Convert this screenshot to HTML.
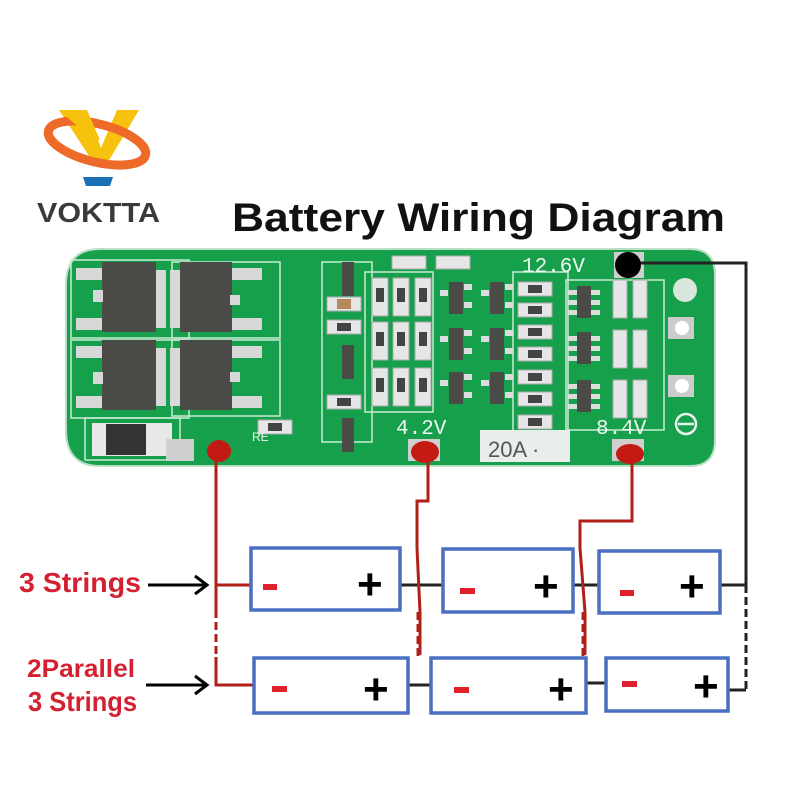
<!DOCTYPE html>
<html><head><meta charset="utf-8"><style>
html,body{margin:0;padding:0;background:#fff;width:800px;height:800px;overflow:hidden}
svg{display:block}
</style></head><body>
<svg width="800" height="800" viewBox="0 0 800 800" xmlns="http://www.w3.org/2000/svg" font-family="Liberation Sans, sans-serif">
<rect width="800" height="800" fill="#fff"/>
<!-- logo -->
<polygon points="59,110 87,110 101,148 117,110 139,110 108,162 93,162" fill="#f7c20e"/>
<ellipse cx="97" cy="143" rx="50" ry="19" fill="none" stroke="#ee6a28" stroke-width="9" transform="rotate(14 97 143)"/>
<polygon points="59,110 87,110 100,140 93,140" fill="#f7c20e"/>
<polygon points="83,177 113,177 110,186 86,186" fill="#1a6fb5"/>
<text x="37" y="222" font-size="28" font-weight="bold" fill="#3a3a3a" textLength="123" lengthAdjust="spacingAndGlyphs">VOKTTA</text>
<!-- title -->
<text x="232" y="231" font-size="40" font-weight="bold" fill="#111" textLength="493" lengthAdjust="spacingAndGlyphs">Battery Wiring Diagram</text>

<!-- PCB -->
<path d="M100,249 L690,249 Q715,249 715,275 L715,440 Q715,466 690,466 L100,466 Q66,466 66,430 L66,285 Q66,249 100,249 Z" fill="#16a04c" stroke="#b9e0c4" stroke-width="2"/>
<g fill="none" stroke="#c8ead3" stroke-width="1.5">
<rect x="71" y="260" width="118" height="78"/><rect x="71" y="340" width="118" height="78"/>
<rect x="172" y="262" width="108" height="76"/><rect x="172" y="340" width="108" height="76"/>
<rect x="85" y="418" width="95" height="42"/>
<rect x="322" y="262" width="50" height="180"/>
<rect x="365" y="272" width="68" height="140"/>
<rect x="513" y="272" width="55" height="160"/>
<rect x="566" y="280" width="98" height="150"/>
</g>
<g fill="#4a4a46">
<rect x="102" y="262" width="54" height="70"/><rect x="180" y="262" width="52" height="70"/>
<rect x="102" y="340" width="54" height="70"/><rect x="180" y="340" width="52" height="70"/>
</g>
<g fill="#d8d8d8">
<rect x="76" y="268" width="26" height="12"/><rect x="76" y="318" width="26" height="12"/><rect x="93" y="290" width="10" height="12"/>
<rect x="76" y="346" width="26" height="12"/><rect x="76" y="396" width="26" height="12"/><rect x="93" y="372" width="10" height="12"/>
<rect x="156" y="270" width="10" height="58"/><rect x="156" y="348" width="10" height="58"/>
<rect x="232" y="268" width="30" height="12"/><rect x="232" y="318" width="30" height="12"/><rect x="230" y="295" width="10" height="10"/>
<rect x="232" y="346" width="30" height="12"/><rect x="232" y="396" width="30" height="12"/><rect x="230" y="372" width="10" height="10"/>
<rect x="170" y="270" width="10" height="58"/><rect x="170" y="348" width="10" height="58"/>
</g>
<rect x="92" y="423" width="80" height="33" fill="#e8e8e8"/><rect x="106" y="424" width="40" height="31" fill="#333"/>
<g fill="#e6e6e6" stroke="#aaa" stroke-width="1">
<rect x="392" y="256" width="34" height="13"/><rect x="436" y="256" width="34" height="13"/>
<rect x="372" y="278" width="16" height="38"/><rect x="393" y="278" width="16" height="38"/><rect x="415" y="278" width="16" height="38"/>
<rect x="372" y="322" width="16" height="38"/><rect x="393" y="322" width="16" height="38"/><rect x="415" y="322" width="16" height="38"/>
<rect x="372" y="368" width="16" height="38"/><rect x="393" y="368" width="16" height="38"/><rect x="415" y="368" width="16" height="38"/>
<rect x="518" y="282" width="34" height="14"/><rect x="518" y="303" width="34" height="14"/><rect x="518" y="325" width="34" height="14"/>
<rect x="518" y="347" width="34" height="14"/><rect x="518" y="370" width="34" height="14"/><rect x="518" y="392" width="34" height="14"/><rect x="518" y="415" width="34" height="14"/>
<rect x="327" y="297" width="34" height="14"/><rect x="327" y="320" width="34" height="14"/><rect x="327" y="395" width="34" height="14"/>
<rect x="613" y="280" width="14" height="38"/><rect x="633" y="280" width="14" height="38"/>
<rect x="613" y="330" width="14" height="38"/><rect x="633" y="330" width="14" height="38"/>
<rect x="613" y="380" width="14" height="38"/><rect x="633" y="380" width="14" height="38"/>
<rect x="258" y="420" width="34" height="14"/>
</g>
<g fill="#444">
<rect x="376" y="288" width="8" height="14"/><rect x="397" y="288" width="8" height="14"/><rect x="419" y="288" width="8" height="14"/>
<rect x="376" y="332" width="8" height="14"/><rect x="397" y="332" width="8" height="14"/><rect x="419" y="332" width="8" height="14"/>
<rect x="376" y="378" width="8" height="14"/><rect x="397" y="378" width="8" height="14"/><rect x="419" y="378" width="8" height="14"/>
<rect x="528" y="285" width="14" height="8"/><rect x="528" y="306" width="14" height="8"/><rect x="528" y="328" width="14" height="8"/>
<rect x="528" y="350" width="14" height="8"/><rect x="528" y="373" width="14" height="8"/><rect x="528" y="395" width="14" height="8"/><rect x="528" y="418" width="14" height="8"/>
<rect x="337" y="323" width="14" height="8"/><rect x="337" y="398" width="14" height="8"/><rect x="268" y="423" width="14" height="8"/>
</g>
<rect x="337" y="299" width="14" height="10" fill="#b58a5e"/>
<g fill="#4a4a46">
<rect x="342" y="262" width="12" height="34"/><rect x="342" y="345" width="12" height="34"/><rect x="342" y="418" width="12" height="34"/>
<rect x="449" y="282" width="14" height="32"/><rect x="449" y="328" width="14" height="32"/><rect x="449" y="372" width="14" height="32"/>
<rect x="490" y="282" width="14" height="32"/><rect x="490" y="328" width="14" height="32"/><rect x="490" y="372" width="14" height="32"/>
<rect x="577" y="286" width="14" height="32"/><rect x="577" y="332" width="14" height="32"/><rect x="577" y="380" width="14" height="32"/>
</g>
<g fill="#ddd">
<rect x="440" y="290" width="8" height="6"/><rect x="464" y="284" width="8" height="6"/><rect x="464" y="302" width="8" height="6"/>
<rect x="440" y="336" width="8" height="6"/><rect x="464" y="330" width="8" height="6"/><rect x="464" y="348" width="8" height="6"/>
<rect x="440" y="380" width="8" height="6"/><rect x="464" y="374" width="8" height="6"/><rect x="464" y="392" width="8" height="6"/>
<rect x="481" y="290" width="8" height="6"/><rect x="505" y="284" width="8" height="6"/><rect x="505" y="302" width="8" height="6"/>
<rect x="481" y="336" width="8" height="6"/><rect x="505" y="330" width="8" height="6"/><rect x="505" y="348" width="8" height="6"/>
<rect x="481" y="380" width="8" height="6"/><rect x="505" y="374" width="8" height="6"/><rect x="505" y="392" width="8" height="6"/>
<rect x="568" y="290" width="9" height="5"/><rect x="568" y="300" width="9" height="5"/><rect x="568" y="310" width="9" height="5"/>
<rect x="591" y="290" width="9" height="5"/><rect x="591" y="300" width="9" height="5"/><rect x="591" y="310" width="9" height="5"/>
<rect x="568" y="336" width="9" height="5"/><rect x="568" y="346" width="9" height="5"/><rect x="568" y="356" width="9" height="5"/>
<rect x="591" y="336" width="9" height="5"/><rect x="591" y="346" width="9" height="5"/><rect x="591" y="356" width="9" height="5"/>
<rect x="568" y="384" width="9" height="5"/><rect x="568" y="394" width="9" height="5"/><rect x="568" y="404" width="9" height="5"/>
<rect x="591" y="384" width="9" height="5"/><rect x="591" y="394" width="9" height="5"/><rect x="591" y="404" width="9" height="5"/>
</g>
<circle cx="685" cy="290" r="12" fill="#d9e6dc"/>
<rect x="668" y="317" width="26" height="22" fill="#ccc"/><circle cx="682" cy="328" r="7" fill="#fff"/>
<rect x="668" y="375" width="26" height="22" fill="#ccc"/><circle cx="682" cy="386" r="7" fill="#fff"/>
<circle cx="686" cy="424" r="10" fill="none" stroke="#e8f4ec" stroke-width="2.5"/><line x1="678" y1="424" x2="694" y2="424" stroke="#e8f4ec" stroke-width="2.5"/>
<rect x="480" y="430" width="90" height="32" fill="#e8eee9"/>
<text x="488" y="457" font-size="22" fill="#555">20A ·</text>
<g fill="#f0f8f2" font-family="Liberation Mono, monospace" font-size="21">
<text x="522" y="272">12.6V</text><text x="396" y="434">4.2V</text><text x="596" y="434">8.4V</text>
</g>
<text x="252" y="441" font-size="12" fill="#f0f8f2">RE</text>
<g fill="#cfcfcf"><rect x="166" y="439" width="28" height="22"/><rect x="408" y="439" width="32" height="22"/><rect x="612" y="439" width="32" height="22"/><rect x="614" y="252" width="30" height="26"/></g>
<!-- wires -->
<g fill="none" stroke="#b0201a" stroke-width="3">
<path d="M216,452 V610 M216,657 V685 H253 M216,585 H250"/>
<path d="M428,452 V501 H417 V548 M420,612 V655"/>
<path d="M632,452 V521 H580 V548 M585,612 V655"/>
</g>
<g fill="none" stroke="#b0201a" stroke-width="3" stroke-dasharray="8,4">
<path d="M216,610 V657"/><path d="M418,612 V660"/><path d="M583,612 V660"/>
</g>
<g fill="none" stroke="#222" stroke-width="3">
<path d="M640,263 H746 V585 H720"/>
<path d="M400,585 H442 M573,585 H598"/>
<path d="M407,685 H430 M585,683 H606 M728,690 H746"/>
</g>
<path d="M746,585 V690" stroke="#222" stroke-width="3" stroke-dasharray="8,4" fill="none"/>
<line x1="417" y1="548" x2="420" y2="612" stroke="#b0201a" stroke-width="3"/>
<line x1="580" y1="548" x2="585" y2="612" stroke="#b0201a" stroke-width="3"/>
<ellipse cx="219" cy="451" rx="12" ry="11" fill="#c41a14"/>
<ellipse cx="425" cy="452" rx="14" ry="11" fill="#c41a14"/>
<ellipse cx="630" cy="454" rx="14" ry="10" fill="#c41a14"/>
<circle cx="628" cy="265" r="13" fill="#000"/>
<!-- batteries -->
<g fill="#fff" stroke="#4a6fc0" stroke-width="3.5">
<rect x="251" y="548" width="149" height="62"/><rect x="443" y="549" width="130" height="63"/><rect x="599" y="551" width="121" height="62"/>
<rect x="254" y="658" width="154" height="55"/><rect x="431" y="658" width="155" height="55"/><rect x="606" y="658" width="122" height="53"/>
</g>
<g fill="#e0202a">
<rect x="263" y="584" width="14" height="6"/><rect x="460" y="588" width="15" height="6"/><rect x="620" y="590" width="14" height="6"/>
<rect x="272" y="686" width="15" height="6"/><rect x="454" y="687" width="15" height="6"/><rect x="622" y="681" width="15" height="6"/>
</g>
<g fill="#000" font-size="44" font-weight="bold">
<text x="357" y="599">+</text><text x="533" y="601">+</text><text x="679" y="601">+</text>
<text x="363" y="704">+</text><text x="548" y="704">+</text><text x="693" y="701">+</text>
</g>
<!-- labels -->
<g fill="#d42030" font-weight="bold">
<text x="19" y="592" font-size="28" textLength="122" lengthAdjust="spacingAndGlyphs">3 Strings</text>
<text x="27" y="677" font-size="25" textLength="108" lengthAdjust="spacingAndGlyphs">2Parallel</text>
<text x="28" y="711" font-size="28" textLength="109" lengthAdjust="spacingAndGlyphs">3 Strings</text>
</g>
<g stroke="#000" stroke-width="3" fill="none">
<path d="M148,585 H205 M195,576 L207,585 L195,594"/>
<path d="M146,685 H205 M195,676 L207,685 L195,694"/>
</g>
</svg>
</body></html>
